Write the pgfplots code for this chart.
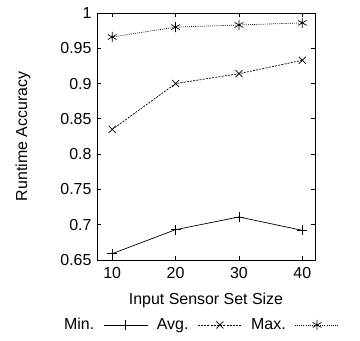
\documentclass[border=0pt]{standalone}
\usepackage{pgfplots}
\pgfplotsset{compat=1.18}
\usepackage{fontspec}
\setmainfont{Liberation Sans}
\begin{document}
\begin{tikzpicture}[x=1bp,y=1bp]
\path[use as bounding box] (0,0) rectangle (360,341);
\begin{axis}[
  at={(97bp,81bp)}, anchor=south west,
  width=218bp, height=247bp, scale only axis,
  xmin=7.6, xmax=42, ymin=0.65, ymax=1,
  xtick={10,20,30,40},
  ytick={0.65,0.7,0.75,0.8,0.85,0.9,0.95,1},
  yticklabels={0.65,0.7,0.75,0.8,0.85,0.9,0.95,1},
  xticklabels={10,20,30,40},
  tick label style={font=\fontsize{16}{19}\selectfont},
  xticklabel style={yshift=-4bp},
  yticklabel style={xshift=-2bp},
  label style={font=\fontsize{16}{19}\selectfont},
  xlabel={Input Sensor Set Size},
  ylabel={Runtime Accuracy},
  ylabel style={at={(rel axis cs:-0.34,0.5)}, anchor=center},
  xlabel style={at={(rel axis cs:0.5,-0.182)}, anchor=base},
  major tick length=4bp,
  axis line style={line width=0.8bp},
  every tick/.style={line width=0.8bp, black},
  legend columns=3,
  legend plot pos=right,
  legend style={draw=none, fill=none, at={(rel axis cs:0.476,-0.263)}, anchor=center,
    font=\fontsize{16}{19}\selectfont, column sep=7bp, inner sep=0pt},
  legend image code/.code={\draw[mark repeat=2,mark phase=2] plot coordinates {(0bp,0bp) (22bp,0bp) (44bp,0bp)};},
  every axis plot/.append style={black, line width=0.7bp, mark size=5bp, mark options={solid, line width=0.7bp}},
]
\addplot[mark=+] coordinates {(10,0.659)(20,0.693)(30,0.711)(40,0.692)};
\addlegendentry{Min.}
\addplot[mark=x, dash pattern=on 2bp off 1.2bp] coordinates {(10,0.835)(20,0.900)(30,0.914)(40,0.933)};
\addlegendentry{Avg.}
\addplot[mark=asterisk, dash pattern=on 0.9bp off 1.2bp] coordinates {(10,0.966)(20,0.980)(30,0.983)(40,0.986)};
\addlegendentry{Max.}
\end{axis}
\end{tikzpicture}
\end{document}
